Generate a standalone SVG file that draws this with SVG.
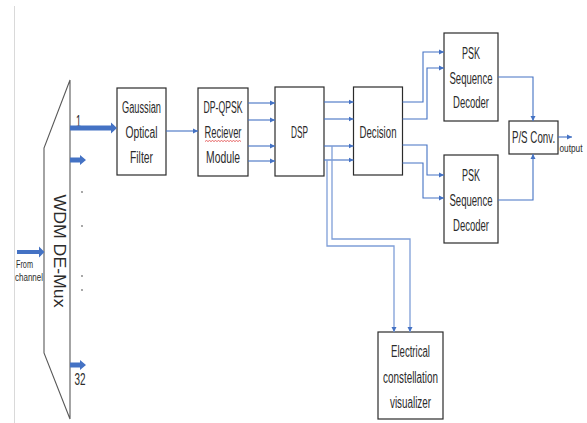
<svg xmlns="http://www.w3.org/2000/svg" width="587" height="423" viewBox="0 0 587 423">
  <style>
    .box { fill: #ffffff; stroke: #2b2b2b; stroke-width: 1.2; }
    .lbl { font-family: "Liberation Sans", Arial, sans-serif; font-size: 16px; fill: #2b2b2b; text-anchor: middle; }
    .small { font-family: "Liberation Sans", Arial, sans-serif; font-size: 10px; fill: #2b2b2b; }
    .wire { fill: none; stroke: #4472C4; stroke-width: 1.1; }
    .wire-lt { fill: none; stroke: #7f9ed8; stroke-width: 1.3; }
    .fat { fill: #4472C4; }
  </style>
  <defs>
    <marker id="ah" markerUnits="userSpaceOnUse" markerWidth="6" markerHeight="6" refX="5" refY="3" orient="auto">
      <path d="M0,0.5 L5,3 L0,5.5 Z" fill="#4472C4"/>
    </marker>
  </defs>

  <rect width="587" height="423" fill="#ffffff"/>
  <!-- page margin rule -->
  <line x1="14.5" y1="6" x2="14.5" y2="423" stroke="#d9d9d9" stroke-width="1"/>

  <!-- WDM demultiplexer -->
  <g id="demux">
    <path d="M70,80 L44,148 L44,353 L70,419 Z" fill="#ffffff" stroke="#595959" stroke-width="1.1"/>
    <text class="lbl" transform="translate(60,251) rotate(90)" x="0" y="6" font-size="17" textLength="113" lengthAdjust="spacingAndGlyphs">WDM DE-Mux</text>
    <text class="lbl" x="78.5" y="127" font-size="13" textLength="5" lengthAdjust="spacingAndGlyphs">1</text>
    <text class="lbl" x="80" y="385" font-size="13" textLength="11" lengthAdjust="spacingAndGlyphs">32</text>
    <g fill="#7f7f7f">
      <circle cx="82" cy="192" r="0.9"/>
      <circle cx="82" cy="226" r="0.9"/>
      <circle cx="82" cy="276" r="0.9"/>
      <circle cx="82" cy="290" r="0.9"/>
    </g>
    <text class="small" x="16" y="267.5" textLength="17" lengthAdjust="spacingAndGlyphs">From</text>
    <text class="small" x="15" y="280.5" textLength="28" lengthAdjust="spacingAndGlyphs">channel</text>
  </g>

  <g id="gaussian-filter">
    <rect class="box" x="117" y="88" width="49" height="87"/>
    <text class="lbl" x="141.5" y="112.5" textLength="39" lengthAdjust="spacingAndGlyphs">Gaussian</text>
    <text class="lbl" x="141.5" y="137.5" textLength="32" lengthAdjust="spacingAndGlyphs">Optical</text>
    <text class="lbl" x="141.5" y="162.5" textLength="23" lengthAdjust="spacingAndGlyphs">Filter</text>
  </g>

  <g id="dpqpsk-receiver">
    <rect class="box" x="198" y="88" width="50" height="88"/>
    <text class="lbl" x="223" y="112.5" textLength="39" lengthAdjust="spacingAndGlyphs">DP-QPSK</text>
    <text class="lbl" x="223" y="137.5" textLength="37" lengthAdjust="spacingAndGlyphs">Reciever</text>
    <path d="M205,141.5 l1.5,-1 l1.5,1 l1.5,-1 l1.5,1 l1.5,-1 l1.5,1 l1.5,-1 l1.5,1 l1.5,-1 l1.5,1 l1.5,-1 l1.5,1 l1.5,-1 l1.5,1 l1.5,-1 l1.5,1 l1.5,-1 l1.5,1 l1.5,-1 l1.5,1 l1.5,-1 l1.5,1 l1.5,-1 l1.5,1" fill="none" stroke="#e04040" stroke-width="0.8"/>
    <text class="lbl" x="223" y="162.5" textLength="34" lengthAdjust="spacingAndGlyphs">Module</text>
  </g>

  <g id="dsp">
    <rect class="box" x="275" y="87" width="49" height="89"/>
    <text class="lbl" x="299.5" y="137.5" textLength="17" lengthAdjust="spacingAndGlyphs">DSP</text>
  </g>

  <g id="decision">
    <rect class="box" x="353.5" y="87" width="49" height="88"/>
    <text class="lbl" x="378" y="137.5" textLength="37" lengthAdjust="spacingAndGlyphs">Decision</text>
  </g>

  <g id="psk-decoder-1">
    <rect class="box" x="444" y="33" width="54" height="88" stroke="#555555"/>
    <text class="lbl" x="471" y="58.5" textLength="18" lengthAdjust="spacingAndGlyphs">PSK</text>
    <text class="lbl" x="471" y="83.5" textLength="43" lengthAdjust="spacingAndGlyphs">Sequence</text>
    <text class="lbl" x="471" y="107.5" textLength="36" lengthAdjust="spacingAndGlyphs">Decoder</text>
  </g>

  <g id="psk-decoder-2">
    <rect class="box" x="444" y="155" width="54" height="88" stroke="#555555"/>
    <text class="lbl" x="471" y="180.5" textLength="18" lengthAdjust="spacingAndGlyphs">PSK</text>
    <text class="lbl" x="471" y="205.5" textLength="43" lengthAdjust="spacingAndGlyphs">Sequence</text>
    <text class="lbl" x="471" y="230.5" textLength="36" lengthAdjust="spacingAndGlyphs">Decoder</text>
  </g>

  <g id="ps-converter">
    <rect class="box" x="509" y="121" width="49" height="33"/>
    <text class="lbl" transform="translate(533.5,142.5) scale(0.61,1)" x="0" y="0" font-size="15">P/S Conv.</text>
    <text class="small" x="559.5" y="152" textLength="23" lengthAdjust="spacingAndGlyphs">output</text>
  </g>

  <g id="constellation-visualizer">
    <rect class="box" x="378" y="332" width="65" height="87" stroke="#555555"/>
    <text class="lbl" x="410.5" y="356.5" textLength="39" lengthAdjust="spacingAndGlyphs">Electrical</text>
    <text class="lbl" x="410.5" y="382.5" textLength="55" lengthAdjust="spacingAndGlyphs">constellation</text>
    <text class="lbl" x="410.5" y="407.5" textLength="41" lengthAdjust="spacingAndGlyphs">visualizer</text>
  </g>

  <g id="connectors">
    <!-- wide optical channel arrows -->
    <path class="fat" d="M17,250 H39 V246.5 L44.5,252 L39,257.5 V254 H17 Z"/>
    <path class="fat" d="M70,125.5 H111 V122.5 L117,128 L111,133.5 V130.5 H70 Z"/>
    <path class="fat" d="M70,157.5 H80 V155 L86,160 L80,165 V162.5 H70 Z"/>
    <path class="fat" d="M70,362.5 H80 V360 L86,365 L80,370 V367.5 H70 Z"/>

    <!-- electrical / data paths -->
    <path class="wire" d="M166,131 H198" marker-end="url(#ah)"/>
    <path class="wire" d="M248,103 H275" marker-end="url(#ah)"/>
    <path class="wire" d="M248,120 H275" marker-end="url(#ah)"/>
    <path class="wire" d="M248,146 H275" marker-end="url(#ah)"/>
    <path class="wire" d="M248,161 H275" marker-end="url(#ah)"/>

    <path class="wire" d="M324,102 H353.5" marker-end="url(#ah)"/>
    <path class="wire" d="M324,119 H353.5" marker-end="url(#ah)"/>
    <path class="wire" d="M324,146 H353.5" marker-end="url(#ah)"/>
    <path class="wire" d="M324,160 H353.5" marker-end="url(#ah)"/>

    <path class="wire-lt" d="M332,146 V239 H410 V332" marker-end="url(#ah)"/>
    <path class="wire-lt" d="M327,160 V246 H394 V332" marker-end="url(#ah)"/>

    <path class="wire" d="M402.5,102 H423 V52 H444" marker-end="url(#ah)"/>
    <path class="wire" d="M402.5,119 H427 V68 H444" marker-end="url(#ah)"/>
    <path class="wire" d="M402.5,145 H427 V175 H444" marker-end="url(#ah)"/>
    <path class="wire" d="M402.5,163 H423 V198 H444" marker-end="url(#ah)"/>

    <path class="wire" d="M498,77 H533 V121" marker-end="url(#ah)"/>
    <path class="wire" d="M498,200 H533 V154" marker-end="url(#ah)"/>
    <path class="wire" d="M558,137 H572" marker-end="url(#ah)"/>
  </g>
</svg>
